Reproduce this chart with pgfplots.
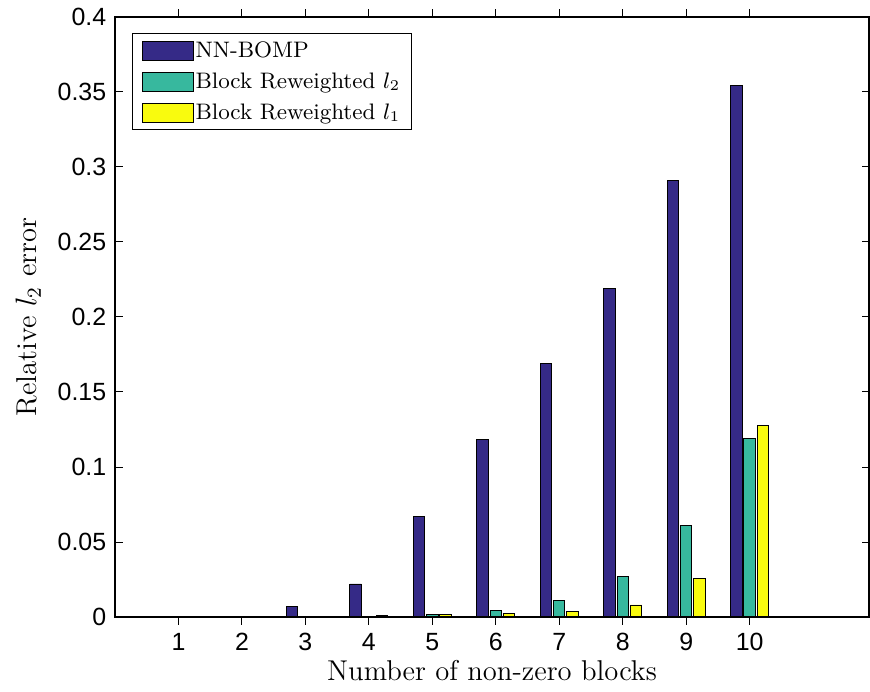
\documentclass[border=0pt]{standalone}
\usepackage{fontspec}
\setsansfont{Liberation Sans}
\usepackage{pgfplots}
\pgfplotsset{compat=1.18}

\definecolor{cA}{RGB}{53,42,135}
\definecolor{cB}{RGB}{55,184,158}
\definecolor{cC}{RGB}{249,251,14}

\pgfplotsset{
  boxleg/.style={legend image code/.code={\draw[##1, line width=0.4pt] (0bp,-3.9bp) rectangle (20.4bp,3.9bp);}},
}

\begin{document}
\begin{tikzpicture}
\begin{axis}[
  name=ax,
  scale only axis,
  width=301.6bp, height=240bp,
  xmin=0, xmax=11.88, ymin=0, ymax=0.4,
  xtick={1,2,3,4,5,6,7,8,9,10},
  ytick={0,0.05,0.1,0.15,0.2,0.25,0.3,0.35,0.4},
  /pgf/number format/fixed,
  /pgf/number format/assume math mode=true,
  tick label style={font=\sffamily\fontsize{10}{12}\selectfont},
  label style={font=\fontsize{11.5}{13}\selectfont},
  tick align=inside,
  major tick length=3bp,
  tick style={black, line width=0.4pt},
  axis line style={line width=0.6pt},
  axis on top,
  xlabel={Number of non-zero blocks},
  ylabel={Relative $l_2$ error},
  xlabel style={at={(axis description cs:0.5,-0.106)}, anchor=base, inner sep=0pt},
  ylabel style={at={(axis description cs:-0.115,0.5)}, anchor=center},
  xticklabel style={anchor=base, yshift=-10.6bp, inner sep=0pt},
  legend style={at={(0.0225,0.973)}, anchor=north west, draw=black,
    line width=0.5pt, font=\fontsize{9}{11}\selectfont,
    inner xsep=3.8bp, inner ysep=0.6bp, row sep=0bp,
    nodes={inner xsep=0.6bp, inner ysep=1.7bp, text height=7bp, text depth=2bp},
    cells={anchor=west}},
  ybar,
  bar width=0.18,
]
\addplot[fill=cA, draw=black, line width=0.4pt, bar shift=-0.21, boxleg] coordinates {
  (1,0) (2,0) (3,0.0073) (4,0.022) (5,0.067) (6,0.118) (7,0.169) (8,0.219) (9,0.291) (10,0.354)
};
\addplot[fill=cB, draw=black, line width=0.4pt, bar shift=0, boxleg] coordinates {
  (1,0) (2,0) (3,0.0001) (4,0.0003) (5,0.0015) (6,0.0042) (7,0.0113) (8,0.0269) (9,0.0613) (10,0.1187)
};
\addplot[fill=cC, draw=black, line width=0.4pt, bar shift=0.21, boxleg] coordinates {
  (1,0) (2,0) (3,0.0003) (4,0.0009) (5,0.0015) (6,0.0025) (7,0.0035) (8,0.008) (9,0.0258) (10,0.1275)
};
\legend{NN-BOMP, Block Reweighted $l_2$, Block Reweighted $l_1$}
\end{axis}
\pgfresetboundingbox
\path ([shift={(-46bp,-30bp)}]ax.south west) rectangle ([shift={(0.4bp,6.8bp)}]ax.north east);
\end{tikzpicture}
\end{document}
